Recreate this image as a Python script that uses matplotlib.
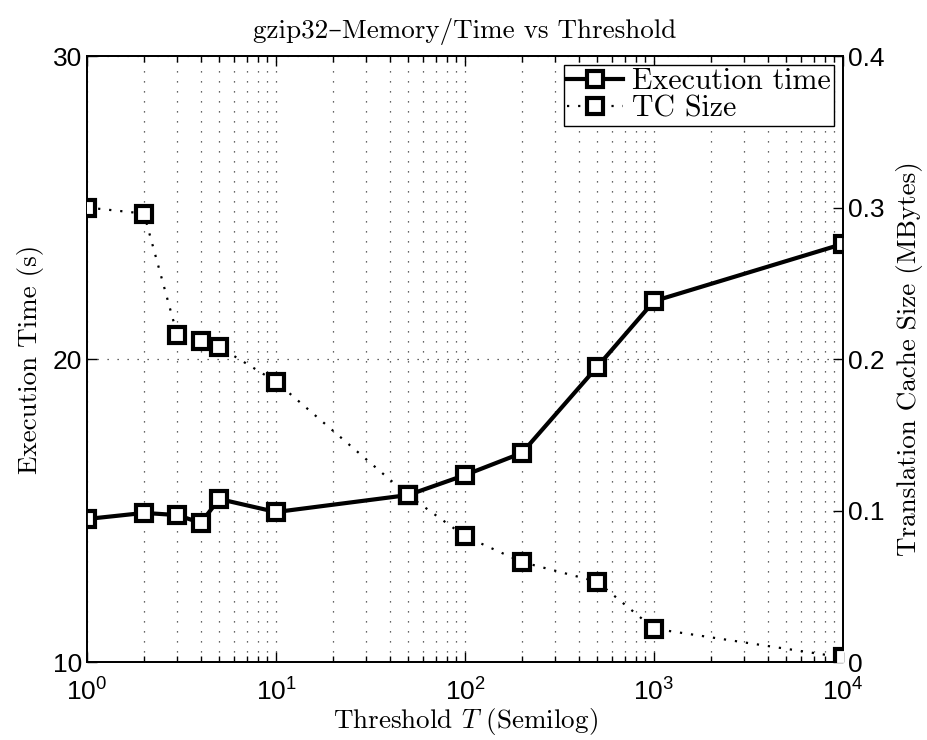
import math
import matplotlib
matplotlib.use('Agg')
import matplotlib.pyplot as plt
from matplotlib.ticker import FuncFormatter, LogLocator

plt.rcParams['mathtext.fontset'] = 'cm'
plt.rcParams['axes.unicode_minus'] = False

threshold = [1, 2, 3, 4, 5, 10, 50, 100, 200, 500, 1000, 10000]
exec_time = [14.72, 14.92, 14.85, 14.59, 15.38, 14.95, 15.51, 16.17, 16.90, 19.74, 21.91, 23.80]
tc_size = [0.300, 0.296, 0.216, 0.212, 0.208, 0.185, 0.110, 0.083, 0.066, 0.053, 0.022, 0.003]

serif = ['cmr10', 'DejaVu Serif']
sans = 'Liberation Sans'

fig = plt.figure(figsize=(9.27, 7.4), dpi=100)
ax1 = fig.add_axes([0.0939, 0.1054, 0.8155, 0.8189])
ax2 = ax1.twinx()

l1, = ax1.plot(threshold, exec_time, color='k', lw=3.0, marker='s', ms=11.5,
               mfc='white', mec='k', mew=3.0, label='Execution time', zorder=5)
l2, = ax2.plot(threshold, tc_size, color='k', lw=1.6, ls=(0, (1, 4)), marker='s', ms=11.5,
               mfc='white', mec='k', mew=3.0, label='TC Size', zorder=4)

ax1.set_xscale('log')
ax1.set_xlim(1, 10000)
ax1.set_ylim(10, 30)
ax2.set_ylim(0, 0.4)
ax1.set_yticks([10, 20, 30])
ax2.set_yticks([0, 0.1, 0.2, 0.3, 0.4])
ax2.yaxis.set_major_formatter(FuncFormatter(lambda v, p: '%g' % v))
ax1.xaxis.set_major_locator(LogLocator(base=10, numticks=10))
ax1.xaxis.set_minor_locator(LogLocator(base=10, subs=range(2, 10), numticks=10))
ax1.xaxis.set_major_formatter(FuncFormatter(lambda v, p: r'$\mathregular{10^{%d}}$' % round(math.log10(v))))

ax1.grid(True, which='major', axis='both', color='k', ls=(0, (1, 7)), lw=0.9, alpha=0.8)
ax1.grid(True, which='minor', axis='x', color='k', ls=(0, (1, 7)), lw=0.9, alpha=0.8)

ax1.tick_params(which='both', direction='in', top=True, right=False, labelsize=19, width=1.0)
ax1.tick_params(which='major', length=7)
ax1.tick_params(which='minor', length=4)
ax1.tick_params(axis='x', pad=12)
ax2.tick_params(direction='in', length=7, labelsize=19, width=1.0)
for lab in ax1.get_xticklabels() + ax1.get_yticklabels() + ax2.get_yticklabels():
    lab.set_fontfamily(sans)

for ax in (ax1, ax2):
    for s in ax.spines.values():
        s.set_linewidth(1.3)

ax1.set_title('gzip32–Memory/Time vs Threshold', family=serif, fontsize=19.5, pad=13)
ax1.set_xlabel(r'Threshold $T$ (Semilog)', family=serif, fontsize=19.5, labelpad=0)
ax1.set_ylabel('Execution Time (s)', family=serif, fontsize=19.5, labelpad=6)
ax2.set_ylabel('Translation Cache Size (MBytes)', family=serif, fontsize=19.5, labelpad=8)

leg = ax2.legend([l1, l2], ['Execution time', 'TC Size'], loc='upper right',
                 prop={'family': serif, 'size': 21.5}, fancybox=False, framealpha=1,
                 edgecolor='k', borderaxespad=0.3, handlelength=1.9, borderpad=0.1,
                 labelspacing=0.0, handletextpad=0.3)
leg.get_frame().set_linewidth(1.0)

fig.savefig('out.png', dpi=100)
